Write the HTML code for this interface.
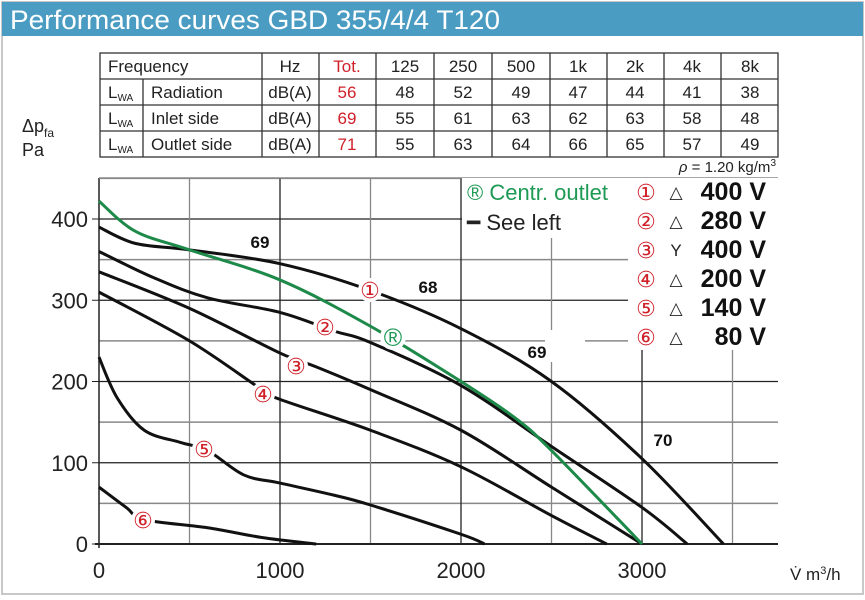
<!DOCTYPE html>
<html><head><meta charset="utf-8"><style>
body{margin:0;background:#fff;font-family:"Liberation Sans",sans-serif}
#w{position:relative;width:865px;height:600px;overflow:hidden}
</style></head><body><div id="w">
<svg id="s" width="865" height="600" xmlns="http://www.w3.org/2000/svg" font-family="Liberation Sans, DejaVu Sans, sans-serif">
<rect x="2" y="2" width="861" height="592" fill="#fff" stroke="#c8c8c8" stroke-width="2"/>
<rect x="2" y="2" width="861" height="34" fill="#4b9cc2"/>
<text x="10" y="29" font-size="27" fill="#fff" textLength="490" lengthAdjust="spacingAndGlyphs">Performance curves GBD 355/4/4 T120</text>
<g id="tbl" stroke="#333" stroke-width="1.3" fill="none">
<rect x="100" y="53" width="678" height="104"/>
<line x1="100" y1="79" x2="778" y2="79"/><line x1="100" y1="105" x2="778" y2="105"/><line x1="100" y1="131" x2="778" y2="131"/>
<line x1="143" y1="79" x2="143" y2="157"/>
<line x1="262" y1="53" x2="262" y2="157"/><line x1="319" y1="53" x2="319" y2="157"/><line x1="376" y1="53" x2="376" y2="157"/>
<line x1="434" y1="53" x2="434" y2="157"/><line x1="492" y1="53" x2="492" y2="157"/><line x1="550" y1="53" x2="550" y2="157"/><line x1="607" y1="53" x2="607" y2="157"/><line x1="664" y1="53" x2="664" y2="157"/><line x1="721" y1="53" x2="721" y2="157"/>
</g>
<g font-size="17" fill="#222" id="tt"></g>
<text x="22" y="132" font-size="18" fill="#222">Δp<tspan font-size="12" dy="5">fa</tspan></text>
<text x="22" y="156" font-size="18" fill="#222">Pa</text>
<text x="776" y="172" font-size="15" fill="#222" text-anchor="end"><tspan font-style="italic">ρ</tspan> = 1.20 kg/m<tspan font-size="10" dy="-6">3</tspan></text>
<g id="grid"></g>
<g id="curves" fill="none" stroke-width="3"></g>
<rect x="462" y="178" width="316" height="60" fill="#fff"/>
<rect x="628" y="178" width="150" height="172" fill="#fff"/>
<rect x="545" y="330" width="40" height="32" fill="#fff"/>
<text x="467" y="200" font-size="22" fill="#1e9a55">® Centr. outlet</text>
<text x="467" y="230" font-size="22" fill="#222">━ See left</text>
<g id="leg"></g>
<g id="lab"></g>
<text x="790" y="580" font-size="17" fill="#222">V̇  m<tspan font-size="11" dy="-6">3</tspan><tspan dy="6">/h</tspan></text>
</svg>
<script>
const NS="http://www.w3.org/2000/svg";
function el(p,t,a,txt){const e=document.createElementNS(NS,t);for(const k in a)e.setAttribute(k,a[k]);if(txt!==undefined)e.textContent=txt;document.getElementById(p).appendChild(e);return e;}
const X=v=>99+0.181*v, Y=p=>544-0.8125*p;
const cols=[[290,'Hz','dB(A)'],[347,'Tot.'],[405,'125'],[463,'250'],[521,'500'],[578,'1k'],[635,'2k'],[692,'4k'],[750,'8k']];
const rows=[['Radiation',56,48,52,49,47,44,41,38],['Inlet side',69,55,61,63,62,63,58,48],['Outlet side',71,55,63,64,66,65,57,49]];
el('tt','text',{x:108,y:72},'Frequency');
const hdr=['Hz','Tot.','125','250','500','1k','2k','4k','8k'];
hdr.forEach((h,i)=>el('tt','text',{x:cols[i][0],y:72,'text-anchor':'middle',fill:i==1?'#d0202a':'#222'},h));
rows.forEach((r,j)=>{const y=98+j*26;
 const t=el('tt','text',{x:108,y:y});t.innerHTML='L<tspan font-size="10" dy="3">WA</tspan>';
 el('tt','text',{x:151,y:y},r[0]);
 el('tt','text',{x:290,y:y,'text-anchor':'middle'},'dB(A)');
 for(let i=1;i<9;i++)el('tt','text',{x:cols[i][0],y:y,'text-anchor':'middle',fill:i==1?'#d0202a':'#222'},r[i]);
});
for(let p=0;p<=450;p+=50){if(p>0)el('grid','line',{x1:99,x2:778,y1:Y(p),y2:Y(p),stroke:p%100?'#888':'#222','stroke-width':p%100?1.6:1.3});}
for(let v=500;v<=3500;v+=500)el('grid','line',{x1:X(v),x2:X(v),y1:178,y2:544,stroke:v%1000?'#888':'#222','stroke-width':1.3});
el('grid','line',{x1:99,x2:99,y1:178,y2:548,stroke:'#222','stroke-width':1.5});
el('grid','line',{x1:99,x2:778,y1:178,y2:178,stroke:'#888','stroke-width':1.5});
el('grid','line',{x1:95,x2:778,y1:544,y2:544,stroke:'#222','stroke-width':2});
[0,100,200,300,400].forEach(p=>{el('grid','text',{x:88,y:Y(p)+8,'font-size':22,'text-anchor':'end',fill:'#222'},p);el('grid','line',{x1:92,x2:99,y1:Y(p),y2:Y(p),stroke:'#222'});});
[0,1000,2000,3000].forEach(v=>el('grid','text',{x:X(v),y:578,'font-size':22,'text-anchor':'middle',fill:'#222'},v));
function path(pts){const P=pts.map(([v,p])=>[X(v),Y(p)]);let d=`M${P[0][0]},${P[0][1]}`;
 for(let i=0;i<P.length-1;i++){const p0=P[i-1]||P[i],p1=P[i],p2=P[i+1],p3=P[i+2]||P[i+1];
 d+=` C${p1[0]+(p2[0]-p0[0])/6},${p1[1]+(p2[1]-p0[1])/6} ${p2[0]-(p3[0]-p1[0])/6},${p2[1]-(p3[1]-p1[1])/6} ${p2[0]},${p2[1]}`;}return d;}
const C=[
[[0,390],[200,370],[500,362],[1000,345],[1500,312],[2000,265],[2500,200],[3000,105],[3450,0]],
[[0,360],[300,328],[600,303],[1000,285],[1300,262],[1500,248],[2000,195],[2500,120],[3000,45],[3250,0]],
[[0,335],[500,290],[1000,235],[1200,218],[1500,190],[2000,140],[2500,70],[3000,0]],
[[0,310],[500,250],[900,190],[1000,178],[1500,140],[2000,95],[2500,35],[2805,0]],
[[0,230],[100,180],[250,140],[450,125],[600,115],[800,85],[1000,75],[1300,60],[1500,48],[2000,12],[2130,0]],
[[0,70],[150,45],[250,30],[600,20],[900,8],[1200,0]]];
C.forEach(c=>el('curves','path',{d:path(c),stroke:'#111'}));
el('curves','path',{d:path([[0,422],[200,385],[500,362],[1000,325],[1500,268],[2000,200],[2300,155],[2500,115],[3000,0]]),stroke:'#1e8a4a'});
const L=[[370,290,'①'],[325,327,'②'],[296,366,'③'],[263,394,'④'],[204,449,'⑤'],[143,520,'⑥']];
L.forEach(([x,y,t])=>{el('lab','circle',{cx:x,cy:y,r:12,fill:'#fff'});el('lab','text',{x:x,y:y+8,'font-size':22,'text-anchor':'middle',fill:'#d0202a'},t);});
el('lab','circle',{cx:393,cy:337,r:13,fill:'#fff'});el('lab','text',{x:393,y:346,'font-size':25,'text-anchor':'middle',fill:'#1e9a55'},'®');
[[260,248,'69'],[428,293,'68'],[537,358,'69'],[663,446,'70']].forEach(([x,y,t])=>el('lab','text',{x:x,y:y,'font-size':17,'font-weight':'bold','text-anchor':'middle',fill:'#111'},t));
const LG=[['①','△','400 V'],['②','△','280 V'],['③','Y','400 V'],['④','△','200 V'],['⑤','△','140 V'],['⑥','△',' 80 V']];
LG.forEach((r,i)=>{const y=200+i*29;el('leg','text',{x:646,y:y,'font-size':22,'text-anchor':'middle',fill:'#d0202a'},r[0]);
 el('leg','text',{x:676,y:y-2,'font-size':17,'text-anchor':'middle',fill:'#222'},r[1]);
 el('leg','text',{x:766,y:y,'font-size':25,'font-weight':'bold','text-anchor':'end',fill:'#111'},r[2]);});
</script>
</div></body></html>
